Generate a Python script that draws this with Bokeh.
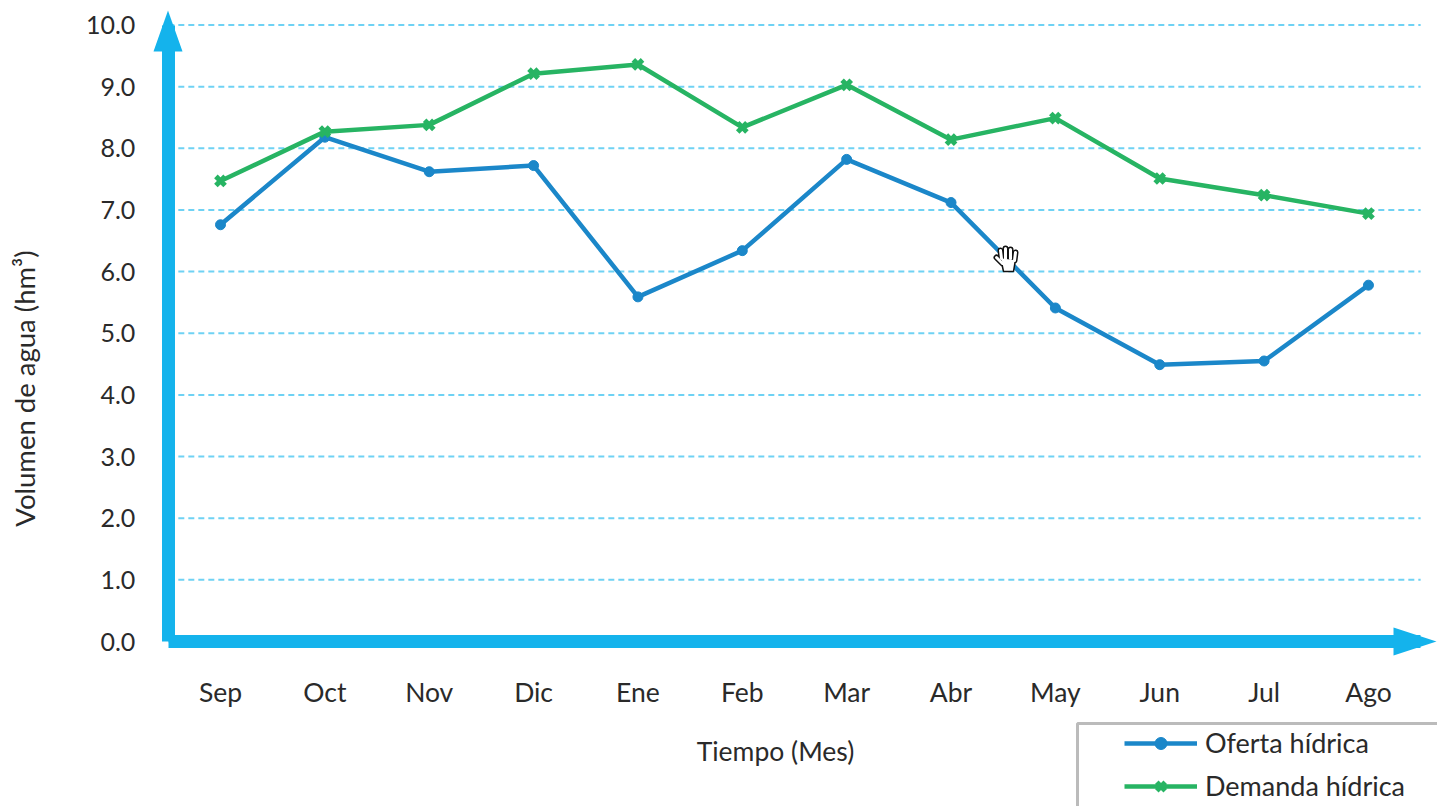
from bokeh.plotting import figure
from bokeh.models import Range1d, Legend, LegendItem, Label, FixedTicker, NumeralTickFormatter
from bokeh.embed import file_html
from bokeh.resources import INLINE

months = ["Sep", "Oct", "Nov", "Dic", "Ene", "Feb", "Mar", "Abr", "May", "Jun", "Jul", "Ago"]
oferta = [6.76, 8.18, 7.62, 7.72, 5.59, 6.34, 7.82, 7.12, 5.41, 4.49, 4.55, 5.78]
demanda = [7.47, 8.27, 8.38, 9.21, 9.36, 8.34, 9.03, 8.14, 8.49, 7.51, 7.24, 6.94]
y_ticks = [0, 1, 2, 3, 4, 5, 6, 7, 8, 9, 10]

FONT = "Lato"
AXIS = "#14b3ec"
INK = "#2a2a2a"
BLUE = "#1b87c9"
GREEN = "#27b463"

W, H = 1437, 806
X0, DX = 220.0, 104.36   # pixel of the first month, pixels per month
Y0, DY = 641.0, 61.65    # pixel of value 0, pixels per unit

def px(v):
    return (v - X0) / DX

def py(v):
    return (Y0 - v) / DY

idx = list(range(len(months)))

p = figure(width=W, height=H, output_backend="svg", toolbar_location=None,
           x_range=Range1d(px(0), px(W)), y_range=Range1d(py(H), py(0)),
           min_border=0)
p.outline_line_color = None
p.background_fill_color = "white"
p.xgrid.visible = False
p.ygrid.visible = False

p.segment([-0.5] * len(y_ticks), y_ticks, [len(months) - 0.5] * len(y_ticks), y_ticks,
          line_color="#6fd2f4", line_width=2, line_dash="6 4", level="underlay")

xa, ya = p.xaxis[0], p.yaxis[0]
for ax in (xa, ya):
    ax.axis_line_color = AXIS
    ax.axis_line_width = 13
    ax.major_tick_line_color = None
    ax.minor_tick_line_color = None
    ax.major_label_text_font = FONT
    ax.major_label_text_color = INK

xa.fixed_location = 0
xa.bounds = (-0.5, len(months) - 0.5)
xa.ticker = FixedTicker(ticks=idx)
xa.major_label_overrides = {i: m for i, m in zip(idx, months)}
xa.major_label_text_font_size = "26.5px"
xa.major_label_standoff = 28

ya.fixed_location = -0.5
ya.bounds = (0, 10)
ya.ticker = FixedTicker(ticks=y_ticks)
ya.formatter = NumeralTickFormatter(format="0.0")
ya.major_label_text_font_size = "25px"
ya.major_label_standoff = 27

l1 = p.line(idx, oferta, color=BLUE, line_width=4.5)
c1 = p.scatter(idx, oferta, marker="circle", size=10, color=BLUE)
l2 = p.line(idx, demanda, color=GREEN, line_width=4.5)
c2 = p.scatter(idx, demanda, marker="x", size=13, line_color=GREEN, line_width=5)

# Arrow heads of the axes
p.patch([px(153), px(182), px(167.5)], [py(51), py(51), py(10)], color=AXIS, line_color=None)
p.patch([px(1393), px(1393), px(1436)], [py(627), py(655), py(641)], color=AXIS, line_color=None)

p.add_layout(Label(x=px(24), y=py(388), text="Volumen de agua (hm³)", angle=1.5708,
                   text_align="center", text_baseline="middle", text_font=FONT,
                   text_font_size="27.5px", text_color=INK))
p.add_layout(Label(x=px(775), y=py(750), text="Tiempo (Mes)",
                   text_align="center", text_baseline="middle", text_font=FONT,
                   text_font_size="26.5px", text_color=INK))

# Hand cursor resting on the blue line
fingers_x = [[1000, 1001], [1005, 1005], [1010, 1010], [1015, 1014], [996, 1002]]
fingers_y = [[250, 258], [248, 258], [249, 258], [252, 260], [257, 263]]
fx = [[px(v) for v in s] for s in fingers_x]
fy = [[py(v) for v in s] for s in fingers_y]
p.multi_line(fx, fy, line_color="#111111", line_width=6, line_cap="round")
p.patch([px(v) for v in (1000, 1015, 1013, 1003)], [py(v) for v in (257, 259, 271, 271)],
        fill_color="white", line_color="#111111", line_width=1.5)
p.multi_line(fx, fy, line_color="white", line_width=3, line_cap="round")

# Legend frame, running off the page on the right and at the bottom
p.quad(left=px(1077), right=px(W + 20), top=py(723), bottom=py(H + 20),
       fill_color="white", line_color="#bbbbbb", line_width=3)

legend = Legend(items=[LegendItem(label="Oferta hídrica", renderers=[l1, c1]),
                       LegendItem(label="Demanda hídrica", renderers=[l2, c2])],
                location=(1124, 4), orientation="vertical",
                margin=0, padding=0, spacing=10,
                glyph_width=73, glyph_height=30, label_height=30,
                label_standoff=8,
                label_text_font=FONT, label_text_font_size="27px", label_text_color=INK,
                border_line_color=None, background_fill_alpha=0)
p.add_layout(legend)

open("out.html", "w").write(file_html(p, INLINE))
